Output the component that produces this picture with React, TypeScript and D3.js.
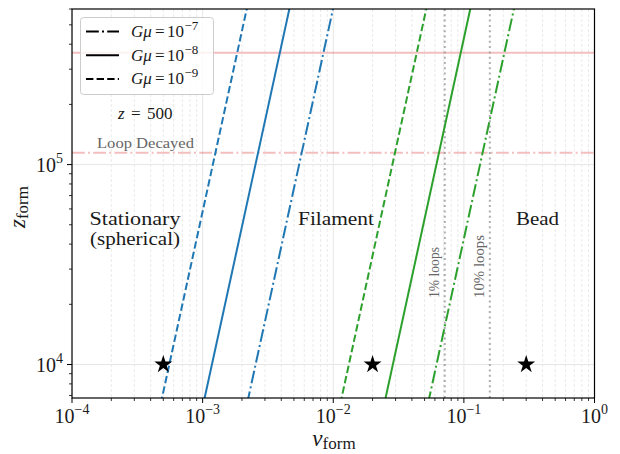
import React from "react";
import * as d3 from "d3";

const W = 620, H = 454;
const zRange = [5e3, 1e6];
// v_form values at z = 5e3 and z = 1e6 for each line
const blueDashed = [4.41e-4, 2.58e-3];
const blueSolid = [9.35e-4, 5.47e-3];
const blueDashDot = [2.02e-3, 1.18e-2];
const greenDashed = [1.045e-2, 6.11e-2];
const greenSolid = [2.27e-2, 0.1327];
const greenDashDot = [4.9e-2, 0.2864];
const hLines = [3.63e5, 1.145e5];
const vLines = [0.0714, 0.158];
const starsV = [5e-4, 2e-2, 0.3];
const starsZ = [1e4, 1e4, 1e4];
const xTickExp = [-4, -3, -2, -1, 0];
const yTickExp = [4, 5];
const legendExp = [-7, -8, -9];

const BLUE = "#1f77b4", GREEN = "#2ca02c";
const FONT = "'Liberation Serif', 'DejaVu Serif', serif";
const DASH = "7.4,3.2";
const DASHDOT = "12.8,3.2,2,3.2";
const TXT = "#1a1a1a";

export default function App() {
  const L = 72, R = 594.5, T = 9, B = 398;
  const x = d3.scaleLog().domain([1e-4, 1]).range([L, R]);
  const y = d3.scaleLog().domain([6800, 6e5]).range([B, T]);
  const line = d3.line<[number, number]>().x(d => x(d[0])).y(d => y(d[1]));
  const series = [
    { v: blueDashed, c: BLUE, dash: DASH },
    { v: blueSolid, c: BLUE, dash: undefined },
    { v: blueDashDot, c: BLUE, dash: DASHDOT },
    { v: greenDashed, c: GREEN, dash: DASH },
    { v: greenSolid, c: GREEN, dash: undefined },
    { v: greenDashDot, c: GREEN, dash: DASHDOT },
  ];
  const xMinor: number[] = [];
  for (let e = -4; e < 0; e++) for (let k = 2; k <= 9; k++) xMinor.push(k * Math.pow(10, e));
  const yMinor = (y.ticks() as number[]).filter(t => {
    const l = Math.log10(t);
    return Math.abs(l - Math.round(l)) > 1e-9;
  });
  const star = d3.symbol().type(d3.symbolStar).size(100)();
  const legendDash = [DASHDOT, undefined, DASH];

  return (
    <svg width={W} height={H} style={{ position: "absolute", left: 0, top: 0, background: "#fff" }} fontFamily={FONT}>
      <defs>
        <clipPath id="plot"><rect x={L} y={T} width={R - L} height={B - T} /></clipPath>
      </defs>
      {/* grid */}
      <g clipPath="url(#plot)">
        {xMinor.map((v, i) => (
          <line key={"gm" + i} x1={x(v)} x2={x(v)} y1={T} y2={B} stroke="#e4e4e4" strokeWidth={0.8} strokeDasharray="3,2" />
        ))}
        {xTickExp.map(e => (
          <line key={"gx" + e} x1={x(Math.pow(10, e))} x2={x(Math.pow(10, e))} y1={T} y2={B} stroke="#e6e6e6" strokeWidth={1} />
        ))}
        {yTickExp.map(e => (
          <line key={"gy" + e} x1={L} x2={R} y1={y(Math.pow(10, e))} y2={y(Math.pow(10, e))} stroke="#e6e6e6" strokeWidth={1} />
        ))}
        {/* horizontal reference lines */}
        <line x1={L} x2={R} y1={y(hLines[0])} y2={y(hLines[0])} stroke="#d62728" strokeOpacity={0.3} strokeWidth={2} />
        <line x1={L} x2={R} y1={y(hLines[1])} y2={y(hLines[1])} stroke="#d62728" strokeOpacity={0.3} strokeWidth={2} strokeDasharray={DASHDOT} />
        {/* vertical dotted lines */}
        {vLines.map((v, i) => (
          <line key={"vl" + i} x1={x(v)} x2={x(v)} y1={T} y2={B} stroke="#999" strokeOpacity={0.8} strokeWidth={2} strokeDasharray="2,3.3" />
        ))}
        {series.map((s, i) => (
          <path key={"s" + i} d={line([[s.v[0], zRange[0]], [s.v[1], zRange[1]]]) || ""} fill="none" stroke={s.c} strokeWidth={2} strokeDasharray={s.dash} />
        ))}
        {starsV.map((v, i) => (
          <path key={"st" + i} d={star || ""} transform={`translate(${x(v)},${y(starsZ[i])})`} fill="#000" />
        ))}
      </g>
      {/* texts */}
      <text x={89.5} y={225} fontSize={19} textLength={91} lengthAdjust="spacingAndGlyphs" fill={TXT}>Stationary</text>
      <text x={90} y={245} fontSize={19} textLength={90} lengthAdjust="spacingAndGlyphs" fill={TXT}>(spherical)</text>
      <text x={298} y={225} fontSize={19} textLength={76} lengthAdjust="spacingAndGlyphs" fill={TXT}>Filament</text>
      <text x={516} y={225} fontSize={19} textLength={43} lengthAdjust="spacingAndGlyphs" fill={TXT}>Bead</text>
      <text x={118} y={119} fontSize={17} fill={TXT}>
        <tspan fontStyle="italic">z</tspan>
        <tspan x={131}>=</tspan>
        <tspan x={147}>500</tspan>
      </text>
      <text x={97} y={148} fontSize={15} textLength={97} lengthAdjust="spacingAndGlyphs" fill="#666">Loop Decayed</text>
      <text transform={`translate(${439},${298}) rotate(-90)`} fontSize={14} textLength={51} lengthAdjust="spacingAndGlyphs" fill="#666">1% loops</text>
      <text transform={`translate(${484},${298}) rotate(-90)`} fontSize={14} textLength={63} lengthAdjust="spacingAndGlyphs" fill="#666">10% loops</text>
      {/* legend */}
      <rect x={80.5} y={17.5} width={133} height={77} rx={3} fill="#fff" fillOpacity={0.8} stroke="#ccc" strokeWidth={1} />
      {legendExp.map((e, i) => (
        <g key={"lg" + i}>
          <line x1={86} x2={119} y1={31.5 + i * 23.7} y2={31.5 + i * 23.7} stroke="#000" strokeWidth={2} strokeDasharray={legendDash[i]} />
          <text x={131} y={37 + i * 23.7} fontSize={17} fill={TXT}>
            <tspan fontStyle="italic">Gμ</tspan>
            <tspan x={155}>=</tspan>
            <tspan x={167}>10</tspan>
            <tspan x={184.5} fontSize={13} dy={-7}>{"\u2212" + Math.abs(e)}</tspan>
          </text>
        </g>
      ))}
      {/* axes frame */}
      <rect x={L} y={T} width={R - L} height={B - T} fill="none" stroke="#000" strokeWidth={1.2} />
      {/* x ticks */}
      {xTickExp.map(e => (
        <g key={"xt" + e}>
          <line x1={x(Math.pow(10, e))} x2={x(Math.pow(10, e))} y1={B} y2={B + 5} stroke="#000" strokeWidth={1} />
          <text x={x(Math.pow(10, e))} y={423} fontSize={20} textAnchor="middle" fill={TXT}>
            10<tspan fontSize={14} dy={-9}>{e < 0 ? "\u2212" + Math.abs(e) : String(e)}</tspan>
          </text>
        </g>
      ))}
      {xMinor.map((v, i) => (
        <line key={"xm" + i} x1={x(v)} x2={x(v)} y1={B} y2={B + 3} stroke="#000" strokeWidth={0.8} />
      ))}
      {/* y ticks */}
      {yTickExp.map(e => (
        <g key={"yt" + e}>
          <line x1={L - 5} x2={L} y1={y(Math.pow(10, e))} y2={y(Math.pow(10, e))} stroke="#000" strokeWidth={1} />
          <text x={63} y={y(Math.pow(10, e)) + 7.5} fontSize={20} textAnchor="end" fill={TXT}>
            10<tspan fontSize={14} dy={-9}>{String(e)}</tspan>
          </text>
        </g>
      ))}
      {yMinor.map((v, i) => (
        <line key={"ym" + i} x1={L - 3} x2={L} y1={y(v)} y2={y(v)} stroke="#000" strokeWidth={0.8} />
      ))}
      {/* axis labels */}
      <text x={334} y={446} fontSize={23} textAnchor="middle" fill={TXT}>
        <tspan fontStyle="italic">v</tspan><tspan fontSize={17} dy={3}>form</tspan>
      </text>
      <text transform={`translate(${25},${207}) rotate(-90)`} fontSize={23} textAnchor="middle" fill={TXT}>
        <tspan fontStyle="italic">z</tspan><tspan fontSize={17} dy={3}>form</tspan>
      </text>
    </svg>
  );
}
